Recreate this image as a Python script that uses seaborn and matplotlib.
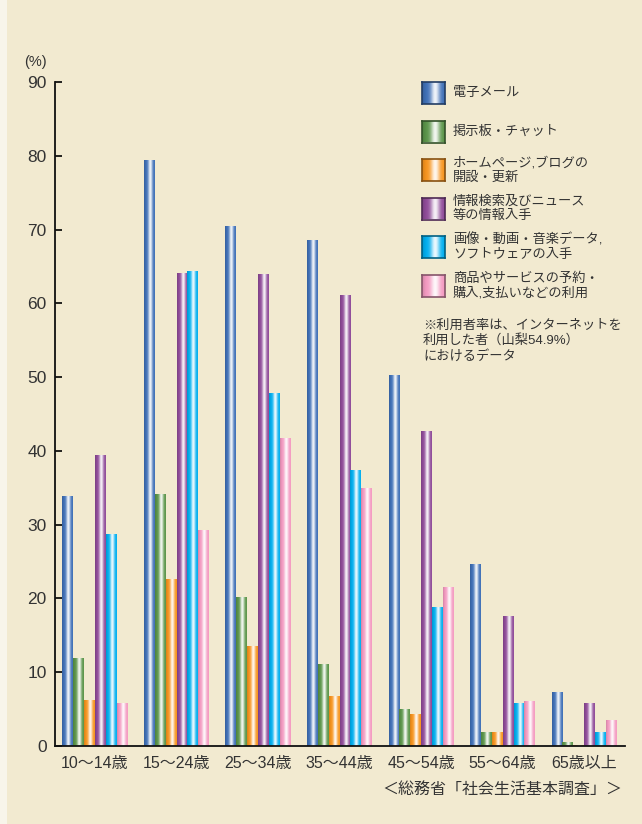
import numpy as np
import pandas as pd
import matplotlib
matplotlib.use('Agg')
import matplotlib.pyplot as plt
import matplotlib.colors as mcolors
from matplotlib.patches import Rectangle
import seaborn as sns

# データ（総務省「社会生活基本調査」山梨）
age_groups = ['10～14歳', '15～24歳', '25～34歳', '35～44歳', '45～54歳', '55～64歳', '65歳以上']
series_names = ['電子メール', '掲示板・チャット', 'ホームページ,ブログの\n開設・更新',
                '情報検索及びニュース\n等の情報入手', '画像・動画・音楽データ,\nソフトウェアの入手',
                '商品やサービスの予約・\n購入,支払いなどの利用']
email = [33.9, 79.4, 70.5, 68.6, 50.3, 24.7, 7.3]
bbs_chat = [11.9, 34.2, 20.2, 11.1, 5.0, 1.9, 0.5]
homepage = [6.3, 22.7, 13.5, 6.8, 4.3, 1.9, 0.1]
search_news = [39.5, 64.1, 64.0, 61.1, 42.7, 17.6, 5.8]
media_download = [28.8, 64.4, 47.8, 37.4, 18.8, 5.8, 1.9]
shopping = [5.8, 29.3, 41.8, 35.0, 21.6, 6.1, 3.5]
colors = ['#3e6fb6', '#5a9448', '#f7941d', '#8e4a98', '#00aeef', '#f49ac1']

values = [email, bbs_chat, homepage, search_news, media_download, shopping]
df = pd.DataFrame({
    'age': np.repeat([age_groups], len(series_names), axis=0).ravel(),
    'series': np.repeat(series_names, len(age_groups)),
    'value': np.concatenate(values),
})

bg = '#f2ead0'
plt.rcParams['font.family'] = ['Liberation Sans', 'Noto Sans CJK JP']


def gradient_image(color, n=64):
    # 円柱風のグラデーション（両端が濃く、中央やや右が白）
    base = np.array(mcolors.to_rgb(color))
    t = np.linspace(0, 1, n)
    w = 0.92 * np.exp(-((t - 0.58) / 0.2) ** 2)
    dark = 1 - 0.12 * np.exp(-(t / 0.12) ** 2)
    rgb = base[None, :] * dark[:, None]
    rgb = rgb * (1 - w[:, None]) + w[:, None]
    return rgb[None, :, :]


fig = plt.figure(figsize=(6.42, 8.24), dpi=100, facecolor=bg)
fig.patches.append(Rectangle((0, 0), 7 / 642, 1, transform=fig.transFigure,
                             facecolor='#f8f5ea', edgecolor='none', zorder=0))
ax = fig.add_axes([55 / 642, 1 - 746 / 824, 570 / 642, 664 / 824])
ax.set_facecolor(bg)

sns.barplot(data=df, x='age', y='value', hue='series', hue_order=series_names,
            order=age_groups, palette=colors, width=0.8, legend=False, ax=ax,
            saturation=1, err_kws={'linewidth': 0})

# 棒をグラデーションで塗り直す
for cont, col in zip(ax.containers, colors):
    for p in cont.patches:
        x0, y0, w, h = p.get_x(), p.get_y(), p.get_width(), p.get_height()
        im = ax.imshow(gradient_image(col), extent=[x0, x0 + w, y0, y0 + h],
                       aspect='auto', interpolation='bilinear', zorder=2)
        im.set_clip_path(p)
        p.set_facecolor('none')
        p.set_edgecolor('none')

ax.set_xlim(-0.49, 6.5)
ax.set_ylim(0, 90)
ax.set_yticks(range(0, 91, 10))
ax.set_xlabel('')
ax.set_ylabel('')
for s in ['top', 'right']:
    ax.spines[s].set_visible(False)
for s in ['left', 'bottom']:
    ax.spines[s].set_linewidth(1.3)
    ax.spines[s].set_color('#111111')
ax.tick_params(axis='y', direction='in', length=5, width=1.2, labelsize=12.5,
               labelcolor='#333333', pad=6)
ax.tick_params(axis='x', length=0, labelsize=11.5, labelcolor='#333333', pad=7)

fig.text(35 / 642, 1 - 62 / 824, '(%)', fontsize=10.5, color='#333333',
         ha='center', va='center')

# 凡例（手作り）
box_w, box_h = 23 / 642, 22 / 824
row_y = [93, 131.5, 170, 208.5, 247, 286]
for name, col, yy in zip(series_names, colors, row_y):
    bax = fig.add_axes([422 / 642, 1 - (yy + 11) / 824, box_w, box_h])
    bax.imshow(gradient_image(col), aspect='auto', interpolation='bilinear')
    bax.set_xticks([])
    bax.set_yticks([])
    edge = np.array(mcolors.to_rgb(col)) * 0.55
    for sp in bax.spines.values():
        sp.set_color(edge)
        sp.set_linewidth(1.2)
    fig.text(453 / 642, 1 - yy / 824, name, fontsize=9.5, color='#333333',
             ha='left', va='center', linespacing=1.25)

fig.text(423 / 642, 1 - 341 / 824,
         '※利用者率は、インターネットを\n利用した者（山梨54.9%）\nにおけるデータ',
         fontsize=9.5, color='#333333', ha='left', va='center', linespacing=1.25)

fig.text(622 / 642, 1 - 789 / 824, '＜総務省「社会生活基本調査」＞', fontsize=11.5,
         color='#333333', ha='right', va='center')

fig.savefig('out.png', dpi=100, facecolor=bg)
